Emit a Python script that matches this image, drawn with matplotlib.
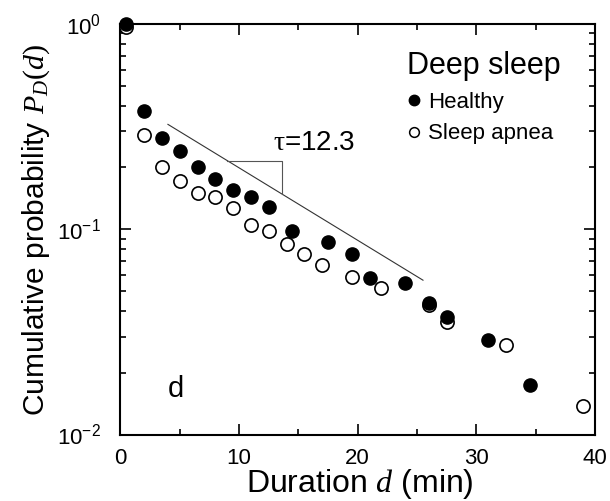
import matplotlib
matplotlib.use("Agg")
import matplotlib.pyplot as plt
from matplotlib.lines import Line2D
import numpy as np

# Cumulative distribution of deep-sleep durations
healthy_d = [0.5, 2, 3.5, 5, 6.5, 8, 9.5, 11, 12.5, 14.5, 17.5, 19.5, 21, 24, 26, 27.5, 31, 34.5]
healthy_p = [1.0, 0.378, 0.277, 0.240, 0.200, 0.175, 0.156, 0.143, 0.129, 0.098,
             0.087, 0.076, 0.058, 0.055, 0.0436, 0.0372, 0.0289, 0.0174]

apnea_d = [0.5, 2, 3.5, 5, 6.5, 8, 9.5, 11, 12.5, 14, 15.5, 17, 19.5, 22, 26, 27.5, 32.5, 39]
apnea_p = [0.965, 0.288, 0.202, 0.172, 0.151, 0.144, 0.127, 0.105, 0.098, 0.085,
           0.0757, 0.067, 0.0587, 0.0519, 0.0428, 0.0354, 0.0273, 0.0138]

# Exponential decay guide exp(-d/tau)
tau = 12.3
fit_amp = 0.449
fit_range = [4.0, 25.5]
slope_box = [9.0, 13.65]

x_ticks = [0, 10, 20, 30, 40]
y_ticks = [1e-2, 1e-1, 1e0]

plt.rcParams["font.family"] = "Liberation Sans"
plt.rcParams["mathtext.fontset"] = "custom"
plt.rcParams["mathtext.rm"] = "Liberation Serif"
plt.rcParams["mathtext.it"] = "Liberation Serif:italic"
plt.rcParams["mathtext.bf"] = "Liberation Serif:bold"

fig = plt.figure(figsize=(6.10, 5.01), dpi=100)
ax = fig.add_axes([0.1975, 0.1327, 0.7779, 0.8194])

ax.set_yscale("log")
ax.set_xlim(0, 40)
ax.set_ylim(1e-2, 1e0)

# Open circles first so the filled ones sit on top where they overlap
ax.plot(apnea_d, apnea_p, "o", ms=9.5, mfc="white", mec="black", mew=1.2,
        clip_on=False, zorder=3)
ax.plot(healthy_d, healthy_p, "o", ms=9.5, mfc="black", mec="black", mew=1.0,
        clip_on=False, zorder=4)

fit = lambda d: fit_amp * np.exp(-np.asarray(d) / tau)
fx = np.linspace(fit_range[0], fit_range[1], 50)
ax.plot(fx, fit(fx), color="#333333", lw=0.8, zorder=2)

# slope triangle
x0, x1 = slope_box
ax.plot([x0, x1, x1], [fit(x0), fit(x0), fit(x1)], color="#555555", lw=0.8, zorder=2)
ax.text(12.85, 0.243, r"$\mathrm{\tau}$=12.3", fontsize=20, ha="left", va="baseline")

ax.text(4.0, 0.0152, "d", fontsize=21, ha="left", va="baseline")

ax.set_xticks(x_ticks)
ax.set_xticks([5, 15, 25, 35], minor=True)
ax.set_yticks(y_ticks)
ax.tick_params(which="both", direction="in", top=True, right=True, width=1.2)
ax.tick_params(which="major", length=8, labelsize=16)
ax.tick_params(axis="x", which="major", pad=9.5)
ax.tick_params(axis="y", which="major", pad=14)
ax.tick_params(which="minor", length=4.5)
for s in ax.spines.values():
    s.set_linewidth(1.5)

ax.set_xlabel(r"Duration $d$ (min)", fontsize=23)
ax.set_ylabel(r"Cumulative probability $P_D(d)$", fontsize=21.5)
ax.xaxis.set_label_coords(0.505, -0.08)
ax.yaxis.set_label_coords(-0.144, 0.497)

handles = [
    Line2D([], [], ls="none", marker="o", ms=7.5, mfc="black", mec="black"),
    Line2D([], [], ls="none", marker="o", ms=7, mfc="white", mec="black", mew=1.1),
]
leg = ax.legend(handles, ["Healthy", "Sleep apnea"], title="Deep sleep",
                loc="upper left", bbox_to_anchor=(407 / 610, 1 - 51 / 501),
                bbox_transform=fig.transFigure, frameon=False, fontsize=16,
                title_fontsize=22, handlelength=0.6, handletextpad=0.33,
                labelspacing=0.48, borderpad=0, borderaxespad=0,
                alignment="left")

fig.savefig("out.png", dpi=100)
